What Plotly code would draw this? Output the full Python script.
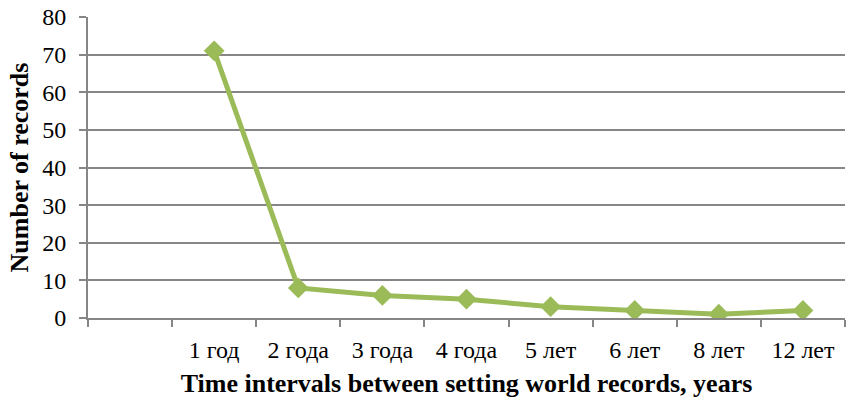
import plotly.graph_objects as go

# Interval categories (the leading blank slot is an empty category on the axis)
categories = [" ", "1 год", "2 года", "3 года", "4 года", "5 лет", "6 лет", "8 лет", "12 лет"]
interval_labels = ["1 год", "2 года", "3 года", "4 года", "5 лет", "6 лет", "8 лет", "12 лет"]
record_counts = [71, 8, 6, 5, 3, 2, 1, 2]
y_ticks = [0, 10, 20, 30, 40, 50, 60, 70, 80]

GREEN = "#9BBB59"
GRID = "#868686"
FONT = "Liberation Serif, Times New Roman, serif"

fig = go.Figure()
fig.add_trace(go.Scatter(
    x=interval_labels,
    y=record_counts,
    mode="lines+markers",
    line=dict(color=GREEN, width=5),
    marker=dict(symbol="diamond", size=16, color=GREEN),
    showlegend=False,
))

fig.update_layout(
    width=849,
    height=405,
    margin=dict(l=88, r=4, t=15, b=87),
    paper_bgcolor="white",
    plot_bgcolor="white",
    font=dict(family=FONT, size=22, color="black"),
    xaxis=dict(
        type="category",
        categoryorder="array",
        categoryarray=categories,
        range=[-0.5, 8.5],
        tickson="boundaries",
        ticks="outside",
        ticklen=7,
        tickwidth=2,
        tickcolor=GRID,
        showgrid=False,
        showline=True,
        linecolor=GRID,
        linewidth=2,
        ticklabelstandoff=9,
        tickfont=dict(family=FONT, size=24),
        title=dict(
            text="<b>Time intervals between setting world records, years</b>",
            font=dict(family=FONT, size=26),
            standoff=12,
        ),
        zeroline=False,
    ),
    yaxis=dict(
        range=[0, 80],
        tickvals=y_ticks,
        ticks="outside",
        ticklen=7,
        tickwidth=2,
        tickcolor=GRID,
        showgrid=True,
        gridcolor=GRID,
        gridwidth=2,
        showline=True,
        linecolor=GRID,
        linewidth=2,
        ticklabelstandoff=8,
        tickfont=dict(family=FONT, size=24),
        title=dict(
            text="<b>Number of records</b>",
            font=dict(family=FONT, size=26),
            standoff=6,
        ),
        zeroline=False,
    ),
)

fig.write_html("out.html")
